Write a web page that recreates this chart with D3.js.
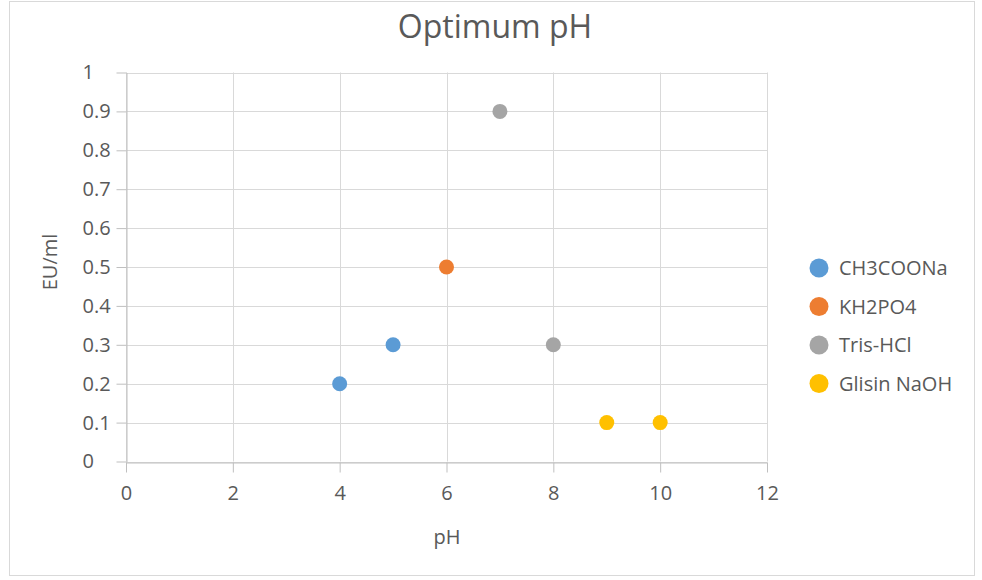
<!DOCTYPE html>
<html>
<head>
<meta charset="utf-8">
<script src="https://cdn.jsdelivr.net/npm/d3@7"></script>
<style>
  body { margin: 0; background: #fff; }
  text { font-family: "Open Sans", "Liberation Sans", sans-serif; fill: #595959; }
</style>
</head>
<body>
<div id="chart"></div>
<script>
var seriesNames = ["CH3COONa", "KH2PO4", "Tris-HCl", "Glisin NaOH"]
var seriesColors = ["#5B9BD5", "#ED7D31", "#A5A5A5", "#FFC000"]
var ch3cooNa = [{x: 4, y: 0.2}, {x: 5, y: 0.3}]
var kh2po4 = [{x: 6, y: 0.5}]
var trisHcl = [{x: 7, y: 0.9}, {x: 8, y: 0.3}]
var glisinNaoh = [{x: 9, y: 0.1}, {x: 10, y: 0.1}]
var xTicks = [0, 2, 4, 6, 8, 10, 12]
var yTicks = [0, 0.1, 0.2, 0.3, 0.4, 0.5, 0.6, 0.7, 0.8, 0.9, 1]

var allSeries = [ch3cooNa, kh2po4, trisHcl, glisinNaoh]

var width = 982, height = 580
var svg = d3.select("#chart").append("svg").attr("width", width).attr("height", height)

// chart border
svg.append("rect").attr("x", 9.5).attr("y", 1.5).attr("width", 965).attr("height", 574)
    .attr("fill", "#fff").attr("stroke", "#d9d9d9").attr("stroke-width", 1)

var plotLeft = 126, plotRight = 767, plotTop = 72.5, plotBottom = 461.5
var tickLen = 10
var xScale = d3.scaleLinear().domain([0, 12]).range([plotLeft, plotRight])
var yScale = d3.scaleLinear().domain([0, 1]).range([plotBottom, plotTop])

// gridlines
svg.selectAll(".hgrid").data(yTicks).enter().append("line")
    .attr("x1", plotLeft).attr("x2", plotRight)
    .attr("y1", function(d){ return Math.round(yScale(d)) + 0.5 })
    .attr("y2", function(d){ return Math.round(yScale(d)) + 0.5 })
    .attr("stroke", "#d9d9d9")
svg.selectAll(".vgrid").data(xTicks).enter().append("line")
    .attr("y1", plotTop).attr("y2", plotBottom)
    .attr("x1", function(d){ return Math.round(xScale(d)) + 0.5 })
    .attr("x2", function(d){ return Math.round(xScale(d)) + 0.5 })
    .attr("stroke", "#d9d9d9")

// axes
var xAxis = d3.axisBottom(xScale).tickValues(xTicks).tickSizeInner(tickLen).tickSizeOuter(0).tickPadding(13)
svg.append("g").attr("transform", "translate(0," + (Math.round(plotBottom) + 0.5) + ")").call(xAxis)
    .call(function(g){
        g.select(".domain").attr("stroke", "#bfbfbf")
        g.selectAll(".tick line").attr("stroke", "#bfbfbf")
        g.selectAll("text").style("font-size", "20px").attr("fill", "#595959")
            .style("font-family", "'Open Sans', sans-serif")
    })
var yAxis = d3.axisLeft(yScale).tickValues(yTicks).tickSizeInner(tickLen).tickSizeOuter(0)
    .tickFormat(function(d){ return d3.format("~g")(d) })
svg.append("g").attr("transform", "translate(" + (Math.round(plotLeft) + 0.5) + ",0)").call(yAxis)
    .call(function(g){
        g.select(".domain").attr("stroke", "#bfbfbf")
        g.selectAll(".tick line").attr("stroke", "#bfbfbf")
        g.selectAll("text").style("font-size", "20px").attr("fill", "#595959")
            .style("font-family", "'Open Sans', sans-serif")
            .attr("text-anchor", "start").attr("x", 82 - plotLeft)
    })

// points
allSeries.forEach(function(s, i){
    svg.selectAll(".pt" + i).data(s).enter().append("circle")
        .attr("cx", function(d){ return xScale(d.x) })
        .attr("cy", function(d){ return yScale(d.y) })
        .attr("r", 7.5)
        .attr("fill", seriesColors[i])
})

// titles
svg.append("text").text("Optimum pH").attr("x", 495).attr("y", 38)
    .attr("text-anchor", "middle").style("font-size", "32px")
svg.append("text").text("pH").attr("x", 447).attr("y", 544)
    .attr("text-anchor", "middle").style("font-size", "20px")
svg.append("text").text("EU/ml").attr("transform", "translate(57,262) rotate(-90)")
    .attr("text-anchor", "middle").style("font-size", "20px")

// legend
var legend = svg.selectAll(".legend").data(seriesNames).enter().append("g")
    .attr("transform", function(d, i){ return "translate(819," + (268 + i * 38.5) + ")" })
legend.append("circle").attr("r", 9.5).attr("fill", function(d, i){ return seriesColors[i] })
legend.append("text").text(function(d){ return d }).attr("x", 20).attr("y", 7)
    .style("font-size", "20px")
</script>
</body>
</html>
